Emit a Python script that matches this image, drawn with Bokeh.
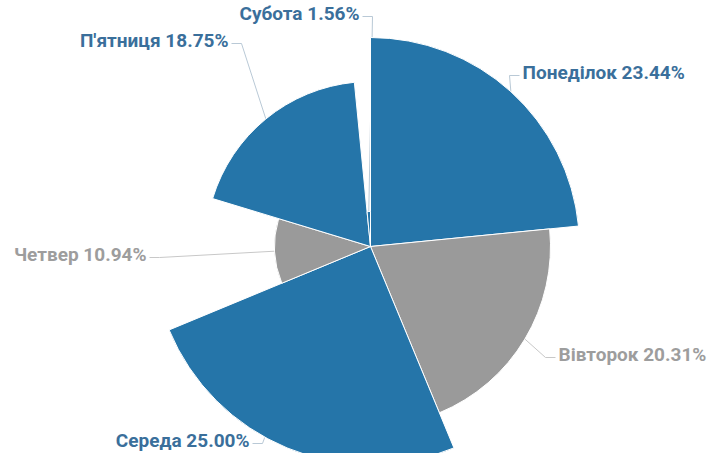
import math
from bokeh.plotting import figure
from bokeh.models import Range1d, ColumnDataSource
from bokeh.embed import file_html
from bokeh.resources import INLINE
from bokeh.core.properties import value

# ---- data ----
days = ["Понеділок", "Вівторок", "Середа", "Четвер", "П'ятниця", "Субота"]
shares = [23.44, 20.31, 25.00, 10.94, 18.75, 1.56]
z_values = [209, 180, 218, 96, 165, 35]

# ---- style ----
BLUE = "#2575a9"
GRAY = "#9a9a9a"
slice_colors = [BLUE, GRAY, BLUE, GRAY, BLUE, BLUE]
label_colors = ["#3a6f9b", "#9d9d9d", "#3a6f9b", "#9d9d9d", "#3a6f9b", "#3a6f9b"]

W, H = 710, 453
OFFY = 6
def sx(x):  # reference px -> data x
    return x
def sy(y):  # reference px -> data y
    return H - (y - OFFY)

cx, cy = sx(370), sy(252)

# label layout: (ref x, ref y, align, anchor angle override in degrees or None)
label_layout = [
    (522, 78, "left", None),
    (558, 360, "left", None),
    (249, 446, "right", 209.0),
    (146, 260, "right", None),
    (228, 46, "right", None),
    (359, 19, "right", None),
]

total = sum(shares)
starts, ends = [], []
acc = 0.0
for s in shares:
    t0 = 2 * math.pi * acc / total
    acc += s
    t1 = 2 * math.pi * acc / total
    starts.append(math.pi / 2 - t1)
    ends.append(math.pi / 2 - t0)

src = ColumnDataSource(dict(
    x=[cx] * len(days), y=[cy] * len(days), r=z_values,
    start=starts, end=ends, color=slice_colors))

p = figure(width=W, height=H, output_backend="svg", toolbar_location=None,
           x_range=Range1d(0, W), y_range=Range1d(0, H), min_border=0)
p.axis.visible = False
p.grid.visible = False
p.outline_line_color = None
p.background_fill_color = "white"
p.border_fill_color = "white"

# connectors and labels
xs, ys, ccols = [], [], []
tx, ty, txt, tcol, talign = [], [], [], [], []
acc = 0.0
for i, d in enumerate(days):
    mid = 2 * math.pi * (acc + shares[i] / 2) / total
    acc += shares[i]
    lx, ly, align, ov = label_layout[i]
    a = math.radians(ov) if ov is not None else mid
    r = z_values[i]
    px = cx + r * math.sin(a)
    py = cy + r * math.cos(a)
    dirn = 1 if align == "left" else -1
    x0 = sx(lx) - dirn * 3
    y0 = sy(ly) - 3
    bx = x0 - dirn * 10
    xs.append([x0, bx, px])
    ys.append([y0, y0, py])
    ccols.append("#c8c8c8" if slice_colors[i] == GRAY else "#b9c9d6")
    tx.append(sx(lx)); ty.append(sy(ly))
    txt.append(f"{d} {shares[i]:.2f}%")
    tcol.append(label_colors[i])
    talign.append(align)

p.multi_line(xs, ys, line_color=ccols, line_width=1)

p.wedge(x="x", y="y", radius="r", start_angle="start", end_angle="end",
        fill_color="color", line_color="white", line_width=1, source=src)

tsrc = ColumnDataSource(dict(x=tx, y=ty, text=txt, color=tcol, align=talign))
p.text(x="x", y="y", text="text", text_color="color", text_align="align",
       text_baseline="middle", text_font=value("Roboto"), text_font_style="bold",
       text_font_size="19px", source=tsrc)

open("out.html", "w").write(file_html(p, INLINE))
